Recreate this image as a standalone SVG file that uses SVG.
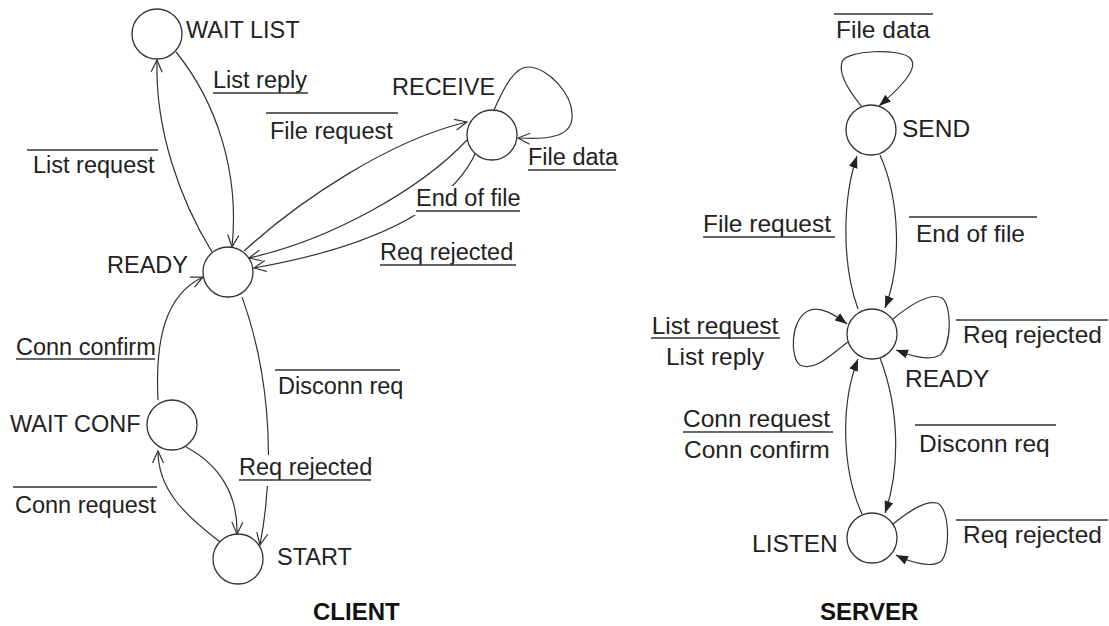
<svg xmlns="http://www.w3.org/2000/svg" width="1109" height="626" viewBox="0 0 1109 626">
  <style>
    .state { fill: #fff; stroke: #333; stroke-width: 1.3; }
    .edge { fill: none; stroke: #333; stroke-width: 1.2; }
    .client-edge { marker-end: url(#open); }
    .server-edge { marker-end: url(#solid); }
    .txt { font-family: "Liberation Sans", Arial, sans-serif; fill: #222; }
    .c { font-size: 23.5px; }
    .s { font-size: 24.5px; }
    .title { font-family: "Liberation Sans", Arial, sans-serif; font-weight: bold; font-size: 24px; fill: #111; }
    .rule { stroke: #333; stroke-width: 1.4; }
    .mask { fill: #fff; stroke: none; }
  </style>
  <defs>
    <marker id="open" markerUnits="userSpaceOnUse" markerWidth="16" markerHeight="14" viewBox="0 0 16 14" refX="14" refY="7" orient="auto">
      <path d="M2,1.5 L14,7 L2,12.5" fill="none" stroke="#333" stroke-width="1.2"/>
    </marker>
    <marker id="solid" markerUnits="userSpaceOnUse" markerWidth="12" markerHeight="10" viewBox="0 0 12 10" refX="12" refY="5" orient="auto">
      <path d="M0,0.5 L12,5 L0,9.5 Z" fill="#222"/>
    </marker>
  </defs>

  <rect width="1109" height="626" fill="#fff"/>

  <!-- transitions -->
  <g id="connectors">
    <!-- client -->
    <path class="edge client-edge" d="M212,252 C180,200 155,130 157,60"/>
    <path class="edge client-edge" d="M176,52 C215,100 240,170 232,247"/>
    <path class="edge client-edge" d="M244,251 C300,200 390,140 467,122"/>
    <path class="edge client-edge" d="M467,140 C420,190 330,240 249,258"/>
    <path class="edge client-edge" d="M477,150 Q440,235 254,268"/>
    <path class="edge client-edge" d="M494,110 C505,85 515,67 528,67 C548,67 574,95 572,118 C571,136 550,140 518,138"/>
    <path class="edge client-edge" d="M242,297 C265,360 278,450 260,545"/>
    <path class="edge client-edge" d="M158,400 C155,340 165,295 203,277"/>
    <path class="edge client-edge" d="M186,447 C220,465 238,495 237,534"/>
    <path class="edge client-edge" d="M220,542 C185,515 158,490 158,451"/>
    <!-- server -->
    <path class="edge server-edge" d="M862,107 C850,92 838,75 842,62 C846,50 900,48 910,58 C920,68 900,88 879,106"/>
    <path class="edge server-edge" d="M880,155 C900,200 902,265 885,308"/>
    <path class="edge server-edge" d="M858,309 C842,265 842,200 857,156"/>
    <path class="edge server-edge" d="M848,342 C830,355 815,372 800,365 C790,358 790,320 808,311 C820,305 835,315 847,324"/>
    <path class="edge server-edge" d="M893,319 C910,305 930,292 942,298 C952,305 952,345 940,355 C928,362 910,355 896,350"/>
    <path class="edge server-edge" d="M880,358 C900,410 900,470 885,513"/>
    <path class="edge server-edge" d="M862,514 C842,470 840,405 858,359"/>
    <path class="edge server-edge" d="M893,524 C908,512 925,500 937,503 C950,507 951,555 940,562 C930,568 910,562 896,555"/>
  </g>

  <!-- client states -->
  <g id="client-wait-list">
    <circle class="state" cx="157" cy="34" r="25"/>
    <text class="txt c" x="186" y="38">WAIT LIST</text>
  </g>
  <g id="client-receive">
    <circle class="state" cx="492" cy="135" r="25"/>
    <text class="txt c" x="392" y="95">RECEIVE</text>
  </g>
  <g id="client-ready">
    <circle class="state" cx="228" cy="272" r="25"/>
    <text class="txt c" x="107" y="273">READY</text>
  </g>
  <g id="client-wait-conf">
    <circle class="state" cx="172" cy="425" r="25"/>
    <text class="txt c" x="10" y="432">WAIT CONF</text>
  </g>
  <g id="client-start">
    <circle class="state" cx="238" cy="559" r="25"/>
    <text class="txt c" x="277" y="565">START</text>
  </g>

  <!-- server states -->
  <g id="server-send">
    <circle class="state" cx="871" cy="130" r="25"/>
    <text class="txt s" x="902" y="137">SEND</text>
  </g>
  <g id="server-ready">
    <circle class="state" cx="872" cy="334" r="25"/>
    <text class="txt s" x="905" y="387">READY</text>
  </g>
  <g id="server-listen">
    <circle class="state" cx="872" cy="538" r="25"/>
    <text class="txt s" x="752" y="552">LISTEN</text>
  </g>

  <!-- transition labels: underlined = received, overlined = sent -->
  <g id="client-labels">
    <text class="txt c" x="213" y="88">List reply</text>
    <line class="rule" x1="213" y1="93" x2="308" y2="93"/>
    <line class="rule" x1="266" y1="113" x2="398" y2="113"/>
    <text class="txt c" x="270" y="139">File request</text>
    <text class="txt c" x="528" y="165">File data</text>
    <line class="rule" x1="528" y1="170" x2="616" y2="170"/>
    <rect class="mask" x="414" y="186" width="108" height="29"/>
    <text class="txt c" x="416" y="206">End of file</text>
    <line class="rule" x1="416" y1="211" x2="520" y2="211"/>
    <text class="txt c" x="380" y="260">Req rejected</text>
    <line class="rule" x1="380" y1="265" x2="516" y2="265"/>
    <line class="rule" x1="27" y1="150" x2="158" y2="150"/>
    <text class="txt c" x="33" y="173">List request</text>
    <text class="txt c" x="16" y="355">Conn confirm</text>
    <line class="rule" x1="16" y1="359" x2="155" y2="359"/>
    <line class="rule" x1="275" y1="370" x2="400" y2="370"/>
    <text class="txt c" x="278" y="394">Disconn req</text>
    <rect class="mask" x="236" y="455" width="138" height="31"/>
    <text class="txt c" x="239" y="475">Req rejected</text>
    <line class="rule" x1="239" y1="480" x2="371" y2="480"/>
    <line class="rule" x1="13" y1="487" x2="157" y2="487"/>
    <text class="txt c" x="15" y="513">Conn request</text>
  </g>
  <g id="server-labels">
    <line class="rule" x1="834" y1="14" x2="933" y2="14"/>
    <text class="txt s" x="836" y="38">File data</text>
    <text class="txt s" x="703" y="232">File request</text>
    <line class="rule" x1="703" y1="237" x2="835" y2="237"/>
    <line class="rule" x1="909" y1="217" x2="1037" y2="217"/>
    <text class="txt s" x="916" y="242">End of file</text>
    <text class="txt s" x="715" y="334" text-anchor="middle">List request</text>
    <line class="rule" x1="651" y1="338" x2="780" y2="338"/>
    <text class="txt s" x="715" y="365" text-anchor="middle">List reply</text>
    <line class="rule" x1="956" y1="320" x2="1108" y2="320"/>
    <text class="txt s" x="963" y="343">Req rejected</text>
    <text class="txt s" x="683" y="427">Conn request</text>
    <line class="rule" x1="683" y1="432" x2="833" y2="432"/>
    <text class="txt s" x="684" y="458">Conn confirm</text>
    <line class="rule" x1="915" y1="425" x2="1056" y2="425"/>
    <text class="txt s" x="919" y="452">Disconn req</text>
    <line class="rule" x1="956" y1="520" x2="1108" y2="520"/>
    <text class="txt s" x="963" y="543">Req rejected</text>
  </g>

  <g id="titles">
    <text class="title" x="313" y="620">CLIENT</text>
    <text class="title" x="820" y="620">SERVER</text>
  </g>
</svg>
